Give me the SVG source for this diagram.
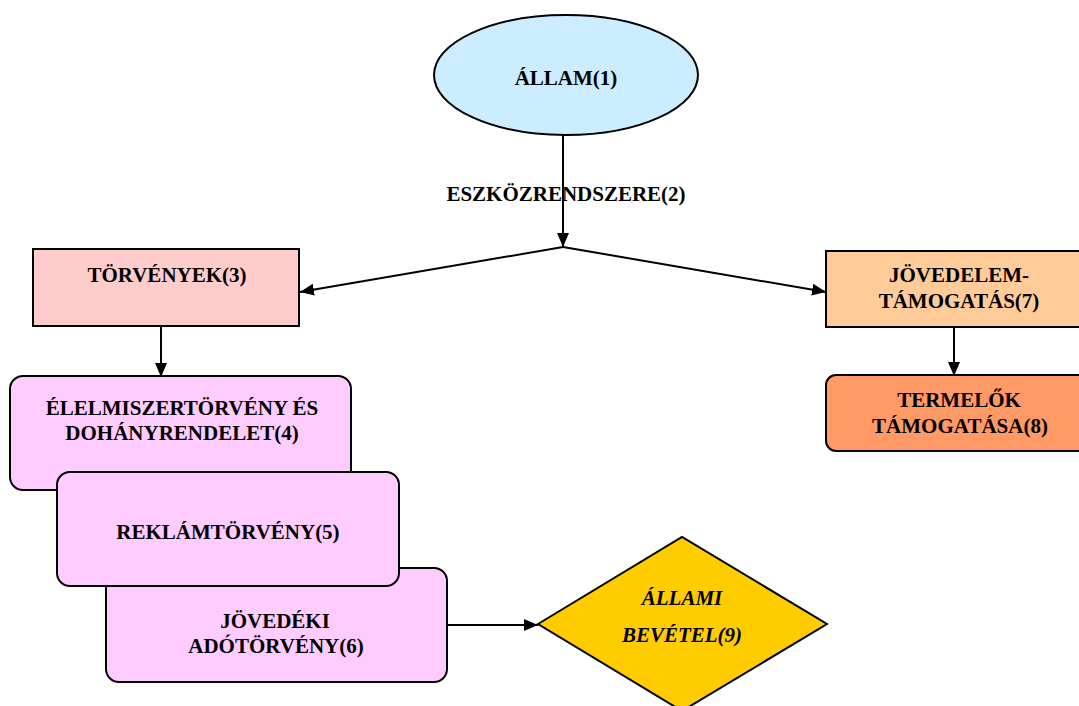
<svg xmlns="http://www.w3.org/2000/svg" width="1079" height="706" viewBox="0 0 1079 706">
<style>
.t{font-family:"Liberation Serif","Times New Roman",serif;font-weight:bold;font-size:21px;fill:#000;text-anchor:middle}
.i{font-style:italic}
.s{stroke:#000;stroke-width:2}
.c{stroke:#000;stroke-width:2;fill:none}
</style>
<defs>
<marker id="ah" markerWidth="14" markerHeight="12" refX="14" refY="6" orient="auto" markerUnits="userSpaceOnUse">
<path d="M0,0 L14,6 L0,12 Z" fill="#000"/>
</marker>
</defs>
<rect width="1079" height="706" fill="#fff"/>
<g id="connectors">
<line class="c" x1="563" y1="135" x2="563" y2="247" marker-end="url(#ah)"/>
<line class="c" x1="563" y1="247" x2="300" y2="292" marker-end="url(#ah)"/>
<line class="c" x1="563" y1="247" x2="826" y2="292" marker-end="url(#ah)"/>
<line class="c" x1="161" y1="326" x2="161" y2="377" marker-end="url(#ah)"/>
<line class="c" x1="954" y1="327" x2="954" y2="376" marker-end="url(#ah)"/>
<line class="c" x1="447" y1="625" x2="538" y2="625" marker-end="url(#ah)"/>
</g>
<g id="n1">
<ellipse class="s" cx="566" cy="75" rx="132" ry="60" fill="#CCECFF"/>
<text class="t" x="566" y="85">ÁLLAM(1)</text>
</g>
<g id="n2">
<text class="t" x="566" y="201">ESZKÖZRENDSZERE(2)</text>
</g>
<g id="n3">
<rect class="s" x="33" y="249" width="266" height="77" fill="#FFCCCC"/>
<text class="t" x="167" y="282">TÖRVÉNYEK(3)</text>
</g>
<g id="n7">
<rect class="s" x="826" y="251" width="266" height="76" fill="#FFCC99"/>
<text class="t" x="959" y="282">JÖVEDELEM-</text>
<text class="t" x="959" y="308">TÁMOGATÁS(7)</text>
</g>
<g id="n8">
<rect class="s" x="826" y="375" width="266" height="76" rx="10" fill="#FF9966"/>
<text class="t" x="959" y="407">TERMELŐK</text>
<text class="t" x="960" y="433">TÁMOGATÁSA(8)</text>
</g>
<g id="n4">
<rect class="s" x="10" y="376" width="341" height="114" rx="13" fill="#FFCCFF"/>
<text class="t" x="182" y="415">ÉLELMISZERTÖRVÉNY ÉS</text>
<text class="t" x="182" y="440">DOHÁNYRENDELET(4)</text>
</g>
<g id="n6">
<rect class="s" x="106" y="568" width="341" height="114" rx="13" fill="#FFCCFF"/>
<text class="t" x="275" y="628">JÖVEDÉKI</text>
<text class="t" x="276" y="653">ADÓTÖRVÉNY(6)</text>
</g>
<g id="n5">
<rect class="s" x="57" y="472" width="342" height="114" rx="13" fill="#FFCCFF"/>
<text class="t" x="228" y="539">REKLÁMTÖRVÉNY(5)</text>
</g>
<g id="n9">
<polygon class="s" points="538,624 682,537 827,624 682,711" fill="#FFCC00"/>
<text class="t i" x="682" y="605">ÁLLAMI</text>
<text class="t i" x="682" y="642">BEVÉTEL(9)</text>
</g>
</svg>
